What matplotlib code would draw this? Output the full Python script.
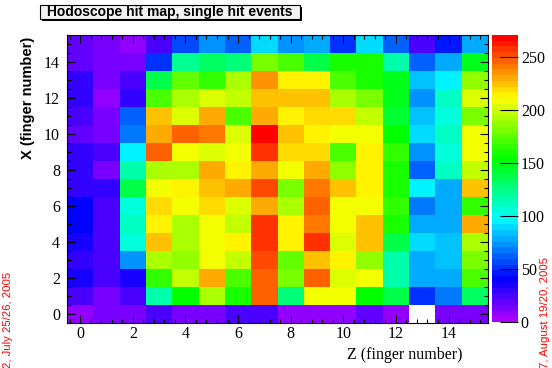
import numpy as np
import matplotlib
matplotlib.use("Agg")
import matplotlib.pyplot as plt
from matplotlib.colors import ListedColormap, hsv_to_rgb, Normalize
from matplotlib.patches import Rectangle
from matplotlib.ticker import MultipleLocator

# hit counts, rows from X=15 (top) down to X=0, columns Z=0..15
hits_top_down = [
    [20, 15, 10, 22, 57, 72, 65, 92, 74, 80, 53, 92, 60, 24, 46, 80],     # X=15
    [17, 15, 14, 50, 122, 133, 130, 184, 173, 140, 158, 158, 118, 61, 78, 150],
    [32, 15, 22, 137, 177, 165, 195, 234, 212, 212, 169, 162, 150, 86, 97, 187],
    [28, 8, 28, 173, 195, 202, 197, 223, 223, 223, 191, 184, 148, 72, 110, 202],
    [22, 15, 65, 223, 204, 229, 169, 229, 213, 218, 218, 197, 145, 86, 103, 180],
    [17, 15, 70, 233, 244, 240, 202, 271, 223, 216, 208, 208, 155, 88, 110, 210],
    [32, 24, 97, 246, 208, 202, 208, 256, 218, 218, 169, 213, 165, 74, 103, 206],
    [32, 15, 114, 195, 191, 233, 213, 229, 208, 233, 187, 213, 158, 63, 111, 200],
    [28, 28, 140, 208, 213, 223, 229, 253, 184, 240, 223, 216, 158, 97, 78, 227],
    [40, 22, 103, 218, 208, 218, 204, 231, 195, 249, 208, 208, 165, 70, 78, 165],
    [39, 22, 110, 213, 195, 208, 197, 255, 213, 240, 208, 223, 158, 76, 78, 231],
    [35, 22, 106, 223, 191, 208, 213, 256, 213, 260, 202, 223, 137, 92, 86, 195],
    [28, 24, 72, 191, 187, 208, 198, 253, 177, 223, 213, 187, 114, 77, 86, 180],
    [33, 26, 35, 165, 198, 233, 169, 246, 184, 249, 204, 208, 114, 80, 76, 173],
    [24, 15, 22, 118, 152, 195, 162, 244, 126, 208, 208, 152, 137, 53, 70, 133],
    [8, 12, 12, 22, 15, 15, 22, 22, 10, 10, 10, 17, 10, 0, 15, 15],         # X=0
]
finger_edges = np.arange(-0.5, 16.0, 1.0)
zmax = 271

title = "Hodoscope hit map, single hit events"
xlabel = "Z (finger number)"
ylabel = "X (finger number)"
cbar_ticks = [0, 50, 100, 150, 200, 250]

hits = np.flipud(np.array(hits_top_down, dtype=float))
hits = np.ma.masked_equal(hits, 0)

# ROOT style rainbow palette, 50 levels violet -> red
hues = np.linspace(280, 0, 50) / 360.0
pal = hsv_to_rgb(np.column_stack([hues, np.ones(50), np.ones(50)]))
cmap = ListedColormap(pal)
cmap.set_bad("white")

W, H = 552, 368
fig = plt.figure(figsize=(W / 100, H / 100), dpi=100)

def frac(x0, y0, x1, y1):
    return [x0 / W, 1 - y1 / H, (x1 - x0) / W, (y1 - y0) / H]

ax = fig.add_axes(frac(67, 35, 488, 323))
mesh = ax.pcolormesh(finger_edges, finger_edges, hits, cmap=cmap,
                     norm=Normalize(0, zmax))
ax.set_xlim(-0.5, 15.5)
ax.set_ylim(-0.5, 15.5)

serif = "Liberation Serif"
ax.xaxis.set_major_locator(MultipleLocator(2))
ax.xaxis.set_minor_locator(MultipleLocator(0.4))
ax.yaxis.set_major_locator(MultipleLocator(2))
ax.yaxis.set_minor_locator(MultipleLocator(0.5))
ax.tick_params(which="both", direction="in", top=True, right=True, width=0.8)
ax.tick_params(which="major", length=6, labelsize=11.5)
ax.tick_params(axis="x", which="major", pad=2)
ax.tick_params(axis="y", which="major", pad=5)
ax.tick_params(which="minor", length=3)
for lab in ax.get_xticklabels() + ax.get_yticklabels():
    lab.set_fontfamily(serif)
for sp in ax.spines.values():
    sp.set_linewidth(0.8)

fig.text(462 / W, 1 - 355 / H, xlabel, family=serif, fontsize=11.5,
         ha="right", va="center")
fig.text(28 / W, 1 - 37 / H, ylabel, family="Liberation Sans", weight="bold",
         fontsize=10.5, rotation=90, ha="center", va="top")

cax = fig.add_axes(frac(492, 35, 518, 322))
cb = fig.colorbar(mesh, cax=cax)
cb.set_ticks(cbar_ticks)
cb.outline.set_visible(False)
cax.tick_params(direction="in", length=13, width=0.8, labelsize=11.5, pad=2)
for lab in cax.get_yticklabels():
    lab.set_fontfamily(serif)
cax.minorticks_off()

# title box with shadow
x0, y0, x1, y1 = 40, 5, 300, 19
fig.patches.append(Rectangle(((x0 + 2) / W, 1 - (y1 + 2) / H), (x1 - x0) / W,
                             (y1 - y0) / H, transform=fig.transFigure,
                             fc="black", ec="black", lw=0))
fig.patches.append(Rectangle((x0 / W, 1 - y1 / H), (x1 - x0) / W,
                             (y1 - y0) / H, transform=fig.transFigure,
                             fc="#f2f2f2", ec="black", lw=0.8))
fig.text((x0 + x1) / 2 / W, 1 - (y0 + y1) / 2 / H, title,
         family="Liberation Sans", weight="bold", fontsize=10,
         ha="center", va="center")

# date stamps at the figure edges
fig.text(8 / W, 0, "2, July 25/26, 2005", color="red", fontsize=8.2,
         family="Liberation Sans", rotation=90, ha="center", va="bottom")
fig.text(545 / W, 0, "7, August 19/20, 2005", color="red", fontsize=8.2,
         family="Liberation Sans", rotation=90, ha="center", va="bottom")

fig.savefig("out.png", dpi=100)
